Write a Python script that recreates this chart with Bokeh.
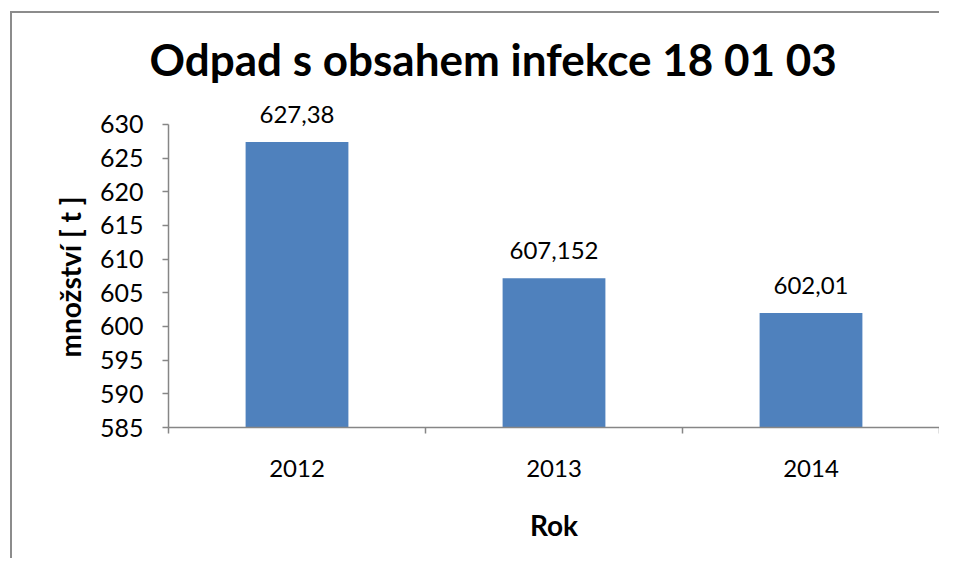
from bokeh.plotting import figure
from bokeh.models import FixedTicker, Range1d, ColumnDataSource, LabelSet, Title
from bokeh.core.properties import value
from bokeh.embed import file_html
from bokeh.resources import INLINE

# ---- data ----
years = [2012, 2013, 2014]
values = [627.38, 607.152, 602.01]
value_labels = ["627,38", "607,152", "602,01"]
y_ticks = [585, 590, 595, 600, 605, 610, 615, 620, 625, 630]

title_text = "Odpad s obsahem infekce 18 01 03"
y_label = "množství [ t ]"
x_label = "Rok"

FONT = "Lato"
AXIS_COLOR = "#868686"
BAR_COLOR = "#4F81BD"

y_min, y_max = y_ticks[0], y_ticks[-1]
x_lo = years[0] - 0.5
x_hi = years[-1] + 0.5
boundaries = [y - 0.5 for y in years] + [years[-1] + 0.5]

p = figure(
    width=929, height=547,
    x_range=Range1d(x_lo, x_hi), y_range=Range1d(y_min, y_max + 4),
    output_backend="svg", toolbar_location=None,
    min_border_left=156, min_border_right=2,
    min_border_top=84, min_border_bottom=133,
)
p.margin = (11, 0, 0, 10)
p.styles = {"border-left": "2px solid #8c8c8c", "border-top": "2px solid #8c8c8c"}

src = ColumnDataSource(dict(x=years, top=values, label=value_labels))
p.vbar(x="x", top="top", bottom=y_min, width=0.4, source=src,
       fill_color=BAR_COLOR, line_color=None)

labels = LabelSet(x="x", y="top", text="label", source=src, y_offset=19,
                  text_align="center", text_baseline="alphabetic",
                  text_font=value(FONT), text_font_size="24px", text_color="black")
p.add_layout(labels)

p.xgrid.grid_line_color = None
p.ygrid.grid_line_color = None
p.outline_line_color = None

# title
p.title.text = title_text
p.title.align = "left"
p.title.offset = -19
p.title.standoff = 25
p.title.text_font = FONT
p.title.text_font_size = "44px"
p.title.text_font_style = "bold"
p.title.text_color = "black"

# y axis
ya = p.yaxis[0]
ya.bounds = (y_min, y_max)
ya.ticker = FixedTicker(ticks=y_ticks)
ya.axis_line_color = AXIS_COLOR
ya.axis_line_width = 1.5
ya.major_tick_line_color = AXIS_COLOR
ya.major_tick_line_width = 1.5
ya.major_tick_out = 6
ya.major_tick_in = 0
ya.minor_tick_line_color = None
ya.major_label_standoff = 19
ya.major_label_text_font = FONT
ya.major_label_text_font_size = "25px"
ya.major_label_text_color = "black"

# y-axis title, centred on the 585-630 span (not the taller frame)
ytitle = Title(text=y_label, align="left", offset=70, standoff=19,
               text_font=FONT, text_font_size="28px", text_font_style="bold",
               text_color="black")
p.add_layout(ytitle, "left")

# x axis
xa = p.xaxis[0]
xa.ticker = FixedTicker(ticks=years, minor_ticks=boundaries)
xa.axis_line_color = AXIS_COLOR
xa.axis_line_width = 1.5
xa.major_tick_line_color = None
xa.major_tick_out = 0
xa.major_tick_in = 0
xa.minor_tick_line_color = AXIS_COLOR
xa.minor_tick_line_width = 1.5
xa.minor_tick_out = 6
xa.minor_tick_in = 0
xa.major_label_standoff = 26
xa.major_label_text_font = FONT
xa.major_label_text_font_size = "24px"
xa.major_label_text_color = "black"
xa.axis_label = x_label
xa.axis_label_text_font = FONT
xa.axis_label_text_font_size = "28px"
xa.axis_label_text_font_style = "bold"
xa.axis_label_text_color = "black"
xa.axis_label_standoff = 28

open("out.html", "w").write(file_html(p, INLINE))
